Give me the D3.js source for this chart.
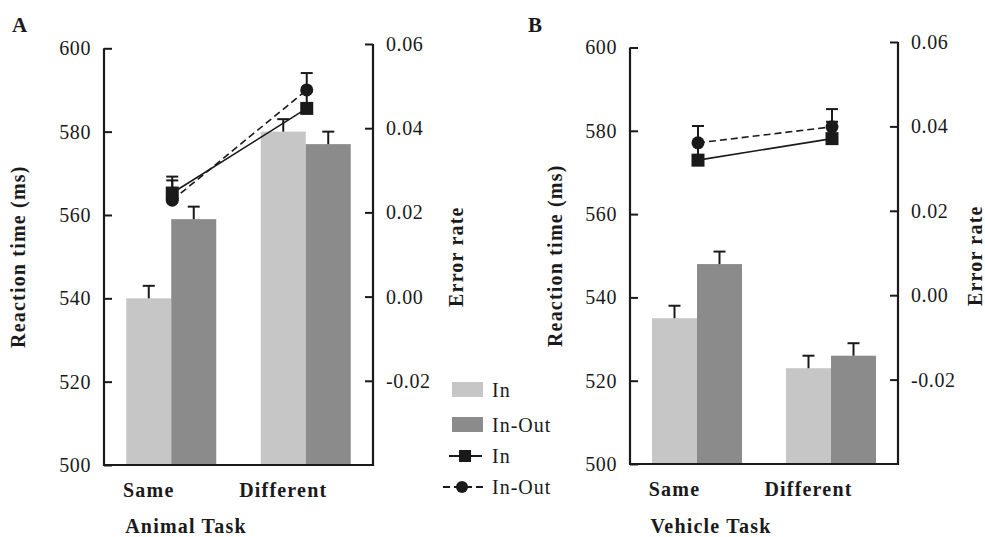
<!DOCTYPE html>
<html>
<head>
<meta charset="utf-8">
<script src="https://cdn.jsdelivr.net/npm/d3@7"></script>
<style>
  html, body { margin: 0; padding: 0; background: #fff; }
  svg { display: block; }
  text { font-family: "Liberation Serif", "Times New Roman", serif; fill: #1a1a1a; }
  .bold { font-weight: bold; letter-spacing: 1.2px; }
</style>
</head>
<body>
<svg id="chart" width="985" height="537"></svg>
<script>
// ---- data ----
const categories = ["Same", "Different"];
const series = ["In", "In-Out"];

// Reaction times (ms) with standard errors
const animalRT_In = [540, 580];
const animalRT_InOut = [559, 577];
const animalRT_InErr = [3, 3];
const animalRT_InOutErr = [3, 3];

const vehicleRT_In = [535, 523];
const vehicleRT_InOut = [548, 526];
const vehicleRT_InErr = [3, 3];
const vehicleRT_InOutErr = [3, 3];

// Error rates with standard errors
const animalER_In = [0.0246, 0.0447];
const animalER_InOut = [0.0229, 0.0491];
const animalER_InErr = [0.003, 0.004];
const animalER_InOutErr = [0.0056, 0.004];

const vehicleER_In = [0.0320, 0.0371];
const vehicleER_InOut = [0.0361, 0.0399];
const vehicleER_InErr = [0.004, 0.004];
const vehicleER_InOutErr = [0.004, 0.0042];

const rtTicks = [500, 520, 540, 560, 580, 600];
const erTicks = [-0.02, 0.00, 0.02, 0.04, 0.06];
const erTickFormat = v => (v < 0 ? "-" : "") + Math.abs(v).toFixed(2);

const colors = { "In": "#c6c6c6", "In-Out": "#8b8b8b" };
const ink = "#1a1a1a";

const svg = d3.select("#chart");

function panel(opt) {
  const g = svg.append("g");
  const left = opt.left, right = opt.right, bottom = opt.bottom;

  const yRT = d3.scaleLinear().domain([500, 600]).range([bottom, opt.rtTop]);
  const yER = d3.scaleLinear().domain([-0.04, 0.06]).range([bottom, opt.erTop]);
  const x = d3.scaleBand().domain(categories).range([left, right]).padding(0);
  const xs = d3.scaleBand().domain(series).range([-45, 45]).padding(0);
  const center = c => x(c) + x.bandwidth() / 2;

  // bars
  const bars = [];
  categories.forEach((c, i) => {
    bars.push({ c, s: "In", v: opt.rtIn[i], e: opt.rtInErr[i] });
    bars.push({ c, s: "In-Out", v: opt.rtInOut[i], e: opt.rtInOutErr[i] });
  });
  g.selectAll("rect.bar").data(bars).enter().append("rect")
    .attr("class", "bar")
    .attr("x", d => center(d.c) + xs(d.s))
    .attr("width", xs.bandwidth())
    .attr("y", d => yRT(d.v))
    .attr("height", d => yRT(500) - yRT(d.v))
    .attr("fill", d => colors[d.s]);

  // bar error bars (upper half)
  const be = g.selectAll("g.berr").data(bars).enter().append("g").attr("class", "berr");
  const bx = d => center(d.c) + xs(d.s) + xs.bandwidth() / 2;
  be.append("line")
    .attr("x1", bx).attr("x2", bx)
    .attr("y1", d => yRT(d.v)).attr("y2", d => yRT(d.v + d.e))
    .attr("stroke", ink).attr("stroke-width", 2);
  be.append("line")
    .attr("x1", d => bx(d) - 6).attr("x2", d => bx(d) + 6)
    .attr("y1", d => yRT(d.v + d.e)).attr("y2", d => yRT(d.v + d.e))
    .attr("stroke", ink).attr("stroke-width", 2);

  // error-rate lines
  const lx = c => center(c) + 1;
  const ptsIn = categories.map((c, i) => ({ c, v: opt.erIn[i], e: opt.erInErr[i] }));
  const ptsInOut = categories.map((c, i) => ({ c, v: opt.erInOut[i], e: opt.erInOutErr[i] }));
  const line = d3.line().x(d => lx(d.c)).y(d => yER(d.v));

  function errBars(pts) {
    const eg = g.append("g");
    eg.selectAll("line.stem").data(pts).enter().append("line")
      .attr("x1", d => lx(d.c)).attr("x2", d => lx(d.c))
      .attr("y1", d => yER(d.v)).attr("y2", d => yER(d.v + d.e))
      .attr("stroke", ink).attr("stroke-width", 2);
    eg.selectAll("line.cap").data(pts).enter().append("line")
      .attr("x1", d => lx(d.c) - 6).attr("x2", d => lx(d.c) + 6)
      .attr("y1", d => yER(d.v + d.e)).attr("y2", d => yER(d.v + d.e))
      .attr("stroke", ink).attr("stroke-width", 2);
  }
  errBars(ptsIn);
  errBars(ptsInOut);

  g.append("path").datum(ptsIn).attr("d", line)
    .attr("fill", "none").attr("stroke", ink).attr("stroke-width", 1.6);
  g.append("path").datum(ptsInOut).attr("d", line)
    .attr("fill", "none").attr("stroke", ink).attr("stroke-width", 1.6)
    .attr("stroke-dasharray", "7,4");

  g.selectAll("rect.sq").data(ptsIn).enter().append("rect")
    .attr("x", d => lx(d.c) - 6.5).attr("y", d => yER(d.v) - 6.5)
    .attr("width", 13).attr("height", 13).attr("fill", ink);
  g.selectAll("circle.ci").data(ptsInOut).enter().append("circle")
    .attr("cx", d => lx(d.c)).attr("cy", d => yER(d.v)).attr("r", 6.5)
    .attr("fill", ink);

  // axes
  const axL = d3.axisLeft(yRT).tickValues(rtTicks).tickSizeInner(-8).tickSizeOuter(0)
    .tickPadding(13).tickFormat(d3.format("d"));
  const gl = g.append("g").attr("transform", `translate(${left},0)`).call(axL);
  const axR = d3.axisRight(yER).tickValues(erTicks).tickSizeInner(-8).tickSizeOuter(0)
    .tickPadding(13).tickFormat(erTickFormat);
  const gr = g.append("g").attr("transform", `translate(${right},0)`).call(axR);
  [gl, gr].forEach(a => {
    a.select(".domain").remove();
    a.selectAll(".tick line").attr("stroke", ink).attr("stroke-width", 2);
    a.selectAll(".tick text").attr("font-size", 20).attr("fill", ink)
      .style("font-family", '"Liberation Serif", serif')
      .style("letter-spacing", "0.6px");
  });
  // axis spines
  g.append("line").attr("x1", left).attr("x2", left).attr("y1", bottom + 1).attr("y2", yRT(600))
    .attr("stroke", ink).attr("stroke-width", 2.2);
  g.append("line").attr("x1", right).attr("x2", right).attr("y1", bottom + 1).attr("y2", yER(0.06))
    .attr("stroke", ink).attr("stroke-width", 2.2);
  g.append("line").attr("x1", left - 1).attr("x2", right + 1).attr("y1", bottom).attr("y2", bottom)
    .attr("stroke", ink).attr("stroke-width", 2.2);

  // category labels, centred under the "In" bars
  g.selectAll("text.cat").data(categories).enter().append("text")
    .attr("class", "bold")
    .attr("x", c => center(c) + xs("In") + xs.bandwidth() / 2)
    .attr("y", bottom + 32)
    .attr("text-anchor", "middle").attr("font-size", 20)
    .text(c => c);

  g.append("text").attr("class", "bold").attr("x", opt.taskX).attr("y", 533)
    .attr("text-anchor", "middle").attr("font-size", 20)
    .text(opt.task);

  g.append("text").attr("class", "bold")
    .attr("transform", `translate(${opt.rtLabelX},${(bottom + yRT(600)) / 2}) rotate(-90)`)
    .attr("text-anchor", "middle").attr("dominant-baseline", "central")
    .attr("font-size", 20)
    .text("Reaction time (ms)");
  g.append("text").attr("class", "bold")
    .attr("transform", `translate(${opt.erLabelX},${(bottom + yRT(600)) / 2}) rotate(-90)`)
    .attr("text-anchor", "middle").attr("dominant-baseline", "central")
    .attr("font-size", 20)
    .text("Error rate");

  g.append("text").attr("x", opt.letterX).attr("y", 32)
    .attr("font-weight", "bold").attr("font-size", 21).text(opt.letter);
}

panel({
  left: 104, right: 373, bottom: 465, rtTop: 48.3, erTop: 44,
  rtIn: animalRT_In, rtInOut: animalRT_InOut, rtInErr: animalRT_InErr, rtInOutErr: animalRT_InOutErr,
  erIn: animalER_In, erInOut: animalER_InOut, erInErr: animalER_InErr, erInOutErr: animalER_InOutErr,
  task: "Animal Task", taskX: 186, rtLabelX: 18, erLabelX: 456, letter: "A", letterX: 12
});
panel({
  left: 630, right: 898, bottom: 464, rtTop: 47.5, erTop: 42,
  rtIn: vehicleRT_In, rtInOut: vehicleRT_InOut, rtInErr: vehicleRT_InErr, rtInOutErr: vehicleRT_InOutErr,
  erIn: vehicleER_In, erInOut: vehicleER_InOut, erInErr: vehicleER_InErr, erInOutErr: vehicleER_InOutErr,
  task: "Vehicle Task", taskX: 711, rtLabelX: 555, erLabelX: 975, letter: "B", letterX: 528
});

// legend
const legend = svg.append("g");
legend.append("rect").attr("x", 452).attr("y", 382).attr("width", 31).attr("height", 15).attr("fill", colors["In"]);
legend.append("rect").attr("x", 452).attr("y", 417).attr("width", 31).attr("height", 15).attr("fill", colors["In-Out"]);
legend.append("line").attr("x1", 449).attr("x2", 482).attr("y1", 456).attr("y2", 456)
  .attr("stroke", ink).attr("stroke-width", 1.8);
legend.append("rect").attr("x", 459).attr("y", 450).attr("width", 12).attr("height", 12).attr("fill", ink);
legend.append("line").attr("x1", 443).attr("x2", 487).attr("y1", 487).attr("y2", 487)
  .attr("stroke", ink).attr("stroke-width", 1.8).attr("stroke-dasharray", "7,4");
legend.append("circle").attr("cx", 462).attr("cy", 487).attr("r", 6).attr("fill", ink);
const legendLabels = ["In", "In-Out", "In", "In-Out"];
const legendY = [390, 425, 456, 487];
legend.selectAll("text").data(legendLabels).enter().append("text")
  .attr("x", 492).attr("y", (d, i) => legendY[i])
  .attr("dominant-baseline", "central").attr("font-size", 20)
  .style("letter-spacing", "1px")
  .text(d => d);
</script>
</body>
</html>
